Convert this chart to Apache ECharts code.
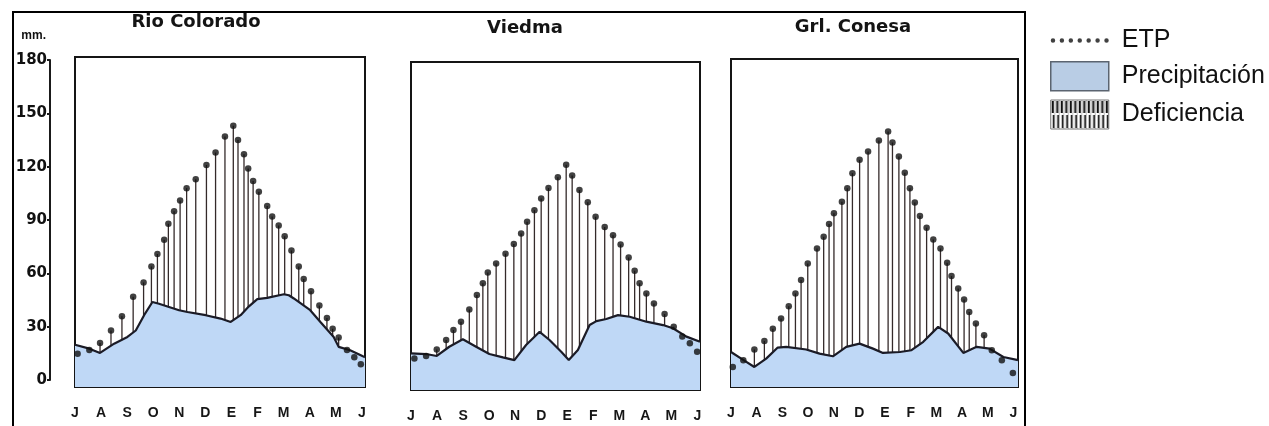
<!DOCTYPE html>
<html>
<head>
<meta charset="utf-8">
<script src="https://cdn.jsdelivr.net/npm/echarts@6/dist/echarts.min.js"></script>
<style>
  html, body { margin: 0; padding: 0; background: #fff; }
  #chart { width: 1269px; height: 426px; }
</style>
</head>
<body>
<div id="chart"></div>
<script>
// ---- data (x = month index from July = 0 to June = 11; y = mm) ----
const months = ['J', 'A', 'S', 'O', 'N', 'D', 'E', 'F', 'M', 'A', 'M', 'J'];
const yTicks = [0, 30, 60, 90, 120, 150, 180];
const stations = ['Rio Colorado', 'Viedma', 'Grl. Conesa'];

// Rio Colorado
const rcEtpX = [0.10,0.55,0.96,1.38,1.80,2.23,2.63,2.93,3.16,3.42,3.58,3.80,4.03,4.28,4.63,5.04,5.39,5.75,6.07,6.25,6.48,6.64,6.83,7.05,7.37,7.56,7.81,8.04,8.30,8.58,8.77,9.05,9.37,9.66,9.88,10.11,10.43,10.71,10.96];
const rcEtp  = [15,17,21,28,36,47,55,64,71,79,88,95,101,108,113,121,128,137,143,135,127,119,112,106,98,92,87,81,73,64,57,50,42,35,29,24,17,13,9];
const rcPrecipX = [0,0.55,0.96,1.5,2.01,2.33,2.65,2.97,3.22,3.99,4.31,5.01,5.58,5.97,6.35,6.67,6.99,7.37,8.01,8.2,8.39,9.02,9.41,9.92,10.11,10.55,11.04,11.12];
const rcPrecip  = [20,17.8,15.4,20.6,24.4,28,36.6,44,43,39.4,38.4,36.6,34.7,32.8,36.6,41.6,45.6,46.3,48.4,47.8,46,39.4,32.8,24.4,18.8,16.9,13.5,13];

// Viedma
const vdEtpX = [0.13,0.58,0.99,1.35,1.63,1.92,2.24,2.53,2.76,2.95,3.27,3.63,3.95,4.23,4.46,4.74,5.0,5.28,5.64,5.96,6.19,6.47,6.79,7.09,7.44,7.76,8.05,8.36,8.59,8.78,9.04,9.33,9.74,10.09,10.42,10.71,10.99];
const vdEtp  = [14,15.4,19,24.4,30,34.7,41.6,49.7,56.3,62.4,67.5,73,78.4,84.4,91,97.5,104,110,116,123,117,108.8,102,93.8,88,83.4,78.2,70.9,63.4,56.3,50.6,45,39,31.9,26.3,22.5,17.8];
const vdPrecipX = [0,0.58,0.99,1.47,1.99,2.5,3.01,3.53,3.97,4.42,4.94,5.32,5.77,6.06,6.41,6.86,7.12,7.5,7.95,8.4,9.04,9.68,10.06,10.58,11.1];
const vdPrecip  = [16.9,16.5,15.4,20.6,24.8,20.6,16.5,14.6,13.1,21.6,29,24.4,17.8,13.1,18.8,32.8,35,36.2,38.4,37.5,34.7,32.8,31,26.3,23.4];

// Grl. Conesa
const gcEtpX = [0.07,0.48,0.91,1.30,1.63,1.95,2.25,2.51,2.73,2.99,3.35,3.61,3.82,4.01,4.32,4.53,4.73,5.01,5.34,5.76,6.12,6.29,6.54,6.77,6.97,7.16,7.36,7.62,7.88,8.16,8.42,8.59,8.85,9.08,9.28,9.54,9.86,10.16,10.55,10.98];
const gcEtp  = [7.5,11.3,17.3,22.1,29,34.7,41.6,48.8,56.3,65.6,74,80.6,87.8,93.8,100.3,107.8,116.3,123.8,128.4,134.6,139.7,133.5,125.6,116.6,107.8,99.8,92.3,85.7,79.1,74,66,58.5,51.6,45.4,38.4,31.9,25.3,16.9,11.3,4.1];
const gcPrecipX = [0,0.46,0.91,1.37,1.82,2.15,2.93,3.45,3.97,4.49,5.01,5.53,5.92,6.58,7.03,7.49,8.07,8.46,9.05,9.57,10.07,10.61,11.18];
const gcPrecip  = [15.9,11.6,7.5,12.2,18.4,18.8,17.3,15,13.5,18.8,20.6,17.8,15.4,15.9,16.9,21.6,30,26.3,15.4,18.8,17.8,13.1,11.3];

// ---- build ----
const pairs = (xs, ys) => xs.map((x, i) => [x, ys[i]]);
const panels = [
  { etp: pairs(rcEtpX, rcEtp), pr: pairs(rcPrecipX, rcPrecip) },
  { etp: pairs(vdEtpX, vdEtp), pr: pairs(vdPrecipX, vdPrecip) },
  { etp: pairs(gcEtpX, gcEtp), pr: pairs(gcPrecipX, gcPrecip) }
];

// layout (pixels) and scale extents
const gridsLayout = [
  { left: 75,  top: 57, width: 290, height: 330, xMax: 11.12, yMax: 181.7, titleX: 196, titleY: 13 },
  { left: 411, top: 62, width: 289, height: 328, xMax: 11.1,  yMax: 180.9, titleX: 525, titleY: 19 },
  { left: 731, top: 59, width: 287, height: 328, xMax: 11.18, yMax: 180.4, titleX: 853, titleY: 18 }
];
const yMin = -3.75;

// hatch pattern for "Deficiencia" (two staggered rows of vertical dashes)
const hatch = document.createElement('canvas');
hatch.width = 9; hatch.height = 29;
(function () {
  const c = hatch.getContext('2d');
  c.fillStyle = '#fff'; c.fillRect(0, 0, 9, 29);
  c.fillStyle = '#aaa';
  c.fillRect(3.5, 0, 0.8, 29);
  c.fillRect(8, 0, 0.8, 29);
  c.fillStyle = '#111';
  c.fillRect(1, 1, 2, 12);
  c.fillRect(5.5, 1, 2, 12);
  c.fillRect(2, 15, 1.6, 13);
  c.fillRect(6.5, 15, 1.6, 13);
})();

const FONT_AX = 'Liberation Sans';
const grid = [], xAxis = [], yAxis = [], series = [], title = [];

gridsLayout.forEach((g, i) => {
  grid.push({ left: g.left, top: g.top, width: g.width, height: g.height,
    show: true, borderColor: '#151515', borderWidth: 2, backgroundColor: 'transparent' });
  xAxis.push({
    type: 'value', gridIndex: i, min: 0, max: g.xMax,
    splitLine: { show: false }, axisLine: { show: false },
    axisTick: { show: true, length: 5, lineStyle: { color: '#222', width: 2 },
      customValues: [1, 2, 3, 4, 5, 6, 7, 8, 9, 10] },
    axisLabel: { show: true, margin: 19, color: '#161616', fontWeight: 'bold', fontSize: 14,
      fontFamily: FONT_AX,
      customValues: months.map((m, k) => k),
      formatter: v => (Number.isInteger(v) ? months[v] : '') }
  });
  yAxis.push({ type: 'value', gridIndex: i, min: yMin, max: g.yMax, show: false,
    splitLine: { show: false } });
  title.push({ text: stations[i], left: g.titleX, top: g.titleY, textAlign: 'center', padding: 0,
    textStyle: { fontFamily: 'DejaVu Sans', fontWeight: 'bold', fontSize: 18, color: '#141414' } });

  const p = panels[i];
  series.push({
    name: 'Deficiencia', type: 'custom', xAxisIndex: i, yAxisIndex: i, z: 1,
    itemStyle: { color: '#3a3030' },
    encode: { x: 0, y: 1 },
    data: p.etp,
    renderItem: (params, api) => {
      const x = api.value(0), y = api.value(1);
      const a = api.coord([x, 0]);
      const b = api.coord([x, y]);
      return { type: 'line', shape: { x1: a[0], y1: a[1], x2: b[0], y2: b[1] },
        style: { stroke: '#342a2a', lineWidth: 1.3 } };
    }
  });
  series.push({
    name: 'Precipitación', type: 'line', xAxisIndex: i, yAxisIndex: i, z: 3,
    data: p.pr, symbol: 'none', smooth: false,
    itemStyle: { color: '#1b1b26' },
    lineStyle: { color: '#1b1b26', width: 2.2 },
    areaStyle: { color: '#bfd8f6', opacity: 1, origin: 'start' }
  });
  series.push({
    name: 'ETP', type: 'scatter', xAxisIndex: i, yAxisIndex: i, z: 4,
    data: p.etp, symbol: 'circle', symbolSize: 6.5,
    itemStyle: { color: '#111' }
  });
});

// separate grid carrying the visible mm axis of the first panel
grid.push({ left: 50, top: 60, width: 1, height: 320, show: false });
xAxis.push({ type: 'value', gridIndex: 3, show: false });
yAxis.push({
  type: 'value', gridIndex: 3, min: 0, max: 180, interval: 30, position: 'left',
  name: 'mm.', nameLocation: 'end', nameGap: 18,
  nameTextStyle: { align: 'right', fontSize: 12, fontWeight: 'bold', color: '#111', fontFamily: FONT_AX, padding: [0, 4, 0, 0] },
  axisLine: { show: true, lineStyle: { color: '#1a1a1a', width: 2 } },
  axisTick: { show: true, length: 3, lineStyle: { color: '#1a1a1a', width: 2 } },
  splitLine: { show: false },
  axisLabel: { margin: 3, color: '#111', fontWeight: 'bold', fontSize: 15, fontFamily: 'DejaVu Sans',
    customValues: yTicks }
});

const dotsPath = 'path://' + [0,1,2,3,4,5,6].map(k => `M${10 * k},2.5a2.5,2.5 0 1,0 5,0a2.5,2.5 0 1,0 -5,0Z`).join('');

const option = {
  backgroundColor: '#fff',
  animation: false,
  title,
  grid, xAxis, yAxis, series,
  legend: {
    orient: 'vertical', left: 1050, top: 28, itemWidth: 58, itemHeight: 29, itemGap: 8,
    selectedMode: false, padding: 0,
    textStyle: { fontFamily: 'Liberation Sans', fontSize: 25, color: '#111', padding: [0, 0, 0, 8] },
    data: [
      { name: 'ETP', icon: dotsPath, itemStyle: { color: '#111' } },
      { name: 'Precipitación', icon: 'rect', itemStyle: { color: '#b9cde5', borderColor: '#5b6470', borderWidth: 1.5 } },
      { name: 'Deficiencia', icon: 'rect', itemStyle: { color: { image: hatch, repeat: 'repeat' }, borderColor: '#777', borderWidth: 1 } }
    ]
  },
  graphic: [
    { type: 'rect', silent: true, z: 100,
      shape: { x: 13, y: 12, width: 1012, height: 450 },
      style: { fill: 'none', stroke: '#000', lineWidth: 2 } }
  ]
};

const chart = echarts.init(document.getElementById('chart'), null, { renderer: 'canvas' });
chart.setOption(option);
</script>
</body>
</html>
